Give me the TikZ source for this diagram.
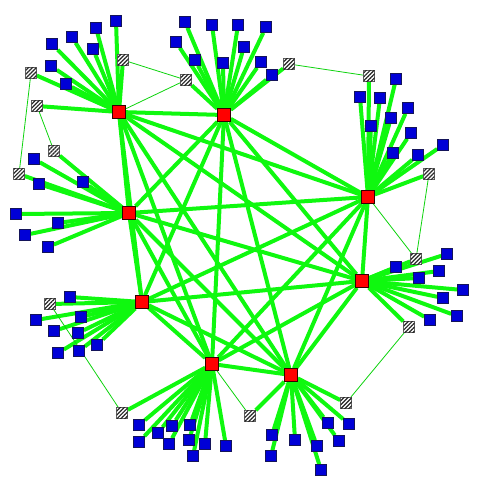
\documentclass[tikz,border=0pt]{standalone}
\usetikzlibrary{patterns.meta}
\pgfdeclarelayer{background}
\pgfsetlayers{background,main}
\definecolor{edgegreen}{RGB}{15,248,15}
\definecolor{hubred}{RGB}{255,0,0}
\definecolor{leafblue}{RGB}{0,0,215}
\definecolor{leafborder}{RGB}{20,20,90}
\tikzset{
  hub/.style={draw=black!80!red, fill=hubred, minimum size=13pt, inner sep=0pt, line width=0.6pt},
  leaf/.style={draw=leafborder, fill=leafblue, minimum size=11pt, inner sep=0pt, line width=0.6pt},
  bridge/.style={draw=black!60, fill=white, minimum size=11pt, inner sep=0pt, line width=0.6pt,
    postaction={pattern={Lines[angle=45,distance=2.8pt,line width=1.2pt]}, pattern color=black!85}},
  thickedge/.style={edgegreen, line width=4pt},
  thinedge/.style={edgegreen!85!black, line width=0.8pt},
}
\begin{document}
\begin{tikzpicture}[x=1pt,y=-1pt]
\useasboundingbox (0,0) rectangle (500,500);
% hubs
\node[hub] (R1) at (119,112) {};
\node[hub] (R2) at (224,115) {};
\node[hub] (R3) at (368,197) {};
\node[hub] (R4) at (129,213) {};
\node[hub] (R5) at (362,281) {};
\node[hub] (R6) at (142,302) {};
\node[hub] (R7) at (212,364) {};
\node[hub] (R8) at (291,375) {};
\begin{pgfonlayer}{background}
\foreach \a/\b in {R1/R2,R1/R3,R1/R4,R1/R5,R1/R6,R1/R7,R1/R8,
  R2/R3,R2/R4,R2/R5,R2/R6,R2/R7,R2/R8,
  R3/R4,R3/R5,R3/R6,R3/R7,R3/R8,
  R4/R5,R4/R6,R4/R7,R4/R8,
  R5/R6,R5/R7,R5/R8,
  R6/R7,R6/R8,
  R7/R8}
  \draw[thickedge] (\a) -- (\b);
\end{pgfonlayer}
% leaves
\foreach \p [count=\i] in {(116,21),(96,28),(72,37),(52,44),(93,49),(51,66),(66,84)}
  {\node[leaf] (a\i) at \p {};
   \begin{pgfonlayer}{background}\draw[thickedge] (R1) -- (a\i);\end{pgfonlayer}}
\foreach \p [count=\i] in {(185,22),(212,25),(238,25),(266,27),(176,42),(244,47),(195,60),(223,63),(261,62),(272,75)}
  {\node[leaf] (b\i) at \p {};
   \begin{pgfonlayer}{background}\draw[thickedge] (R2) -- (b\i);\end{pgfonlayer}}
\foreach \p [count=\i] in {(396,79),(360,97),(380,98),(408,108),(391,118),(371,126),(411,133),(443,145),(393,153),(418,155)}
  {\node[leaf] (c\i) at \p {};
   \begin{pgfonlayer}{background}\draw[thickedge] (R3) -- (c\i);\end{pgfonlayer}}
\foreach \p [count=\i] in {(34,159),(39,184),(83,182),(16,214),(58,223),(25,235),(48,247)}
  {\node[leaf] (d\i) at \p {};
   \begin{pgfonlayer}{background}\draw[thickedge] (R4) -- (d\i);\end{pgfonlayer}}
\foreach \p [count=\i] in {(447,254),(396,267),(439,271),(419,278),(463,290),(443,298),(457,316),(430,320)}
  {\node[leaf] (e\i) at \p {};
   \begin{pgfonlayer}{background}\draw[thickedge] (R5) -- (e\i);\end{pgfonlayer}}
\foreach \p [count=\i] in {(70,297),(36,320),(81,317),(54,331),(78,333),(97,345),(58,353),(79,351)}
  {\node[leaf] (f\i) at \p {};
   \begin{pgfonlayer}{background}\draw[thickedge] (R6) -- (f\i);\end{pgfonlayer}}
\foreach \p [count=\i] in {(139,425),(172,426),(190,425),(158,433),(139,442),(169,444),(189,440),(205,444),(226,446),(193,456)}
  {\node[leaf] (g\i) at \p {};
   \begin{pgfonlayer}{background}\draw[thickedge] (R7) -- (g\i);\end{pgfonlayer}}
\foreach \p [count=\i] in {(328,423),(349,424),(272,435),(295,440),(317,446),(339,441),(271,456),(321,470)}
  {\node[leaf] (h\i) at \p {};
   \begin{pgfonlayer}{background}\draw[thickedge] (R8) -- (h\i);\end{pgfonlayer}}
% bridges
\node[bridge] (H1) at (31,73) {};
\node[bridge] (H2) at (123,60) {};
\node[bridge] (H3) at (37,106) {};
\node[bridge] (H4) at (54,151) {};
\node[bridge] (H5) at (19,174) {};
\node[bridge] (H6) at (186,80) {};
\node[bridge] (H7) at (289,64) {};
\node[bridge] (H8) at (369,76) {};
\node[bridge] (H9) at (429,174) {};
\node[bridge] (H10) at (416,259) {};
\node[bridge] (H11) at (409,327) {};
\node[bridge] (H12) at (50,304) {};
\node[bridge] (H13) at (122,413) {};
\node[bridge] (H14) at (250,416) {};
\node[bridge] (H15) at (346,403) {};
\begin{pgfonlayer}{background}
\foreach \a/\b in {R1/H1,R1/H2,R1/H3,R4/H4,R4/H5,R2/H6,R2/H7,R3/H8,R3/H9,R5/H10,R5/H11,R6/H12,R7/H13,R8/H14,R8/H15}
  \draw[thickedge] (\a) -- (\b);
\foreach \a/\b in {H1/H5,H3/H4,H2/H6,R1/H6,H7/H8,H9/H10,R3/H10,H11/H15,R7/H14,H12/H13}
  \draw[thinedge] (\a) -- (\b);
\end{pgfonlayer}
\end{tikzpicture}
\end{document}
